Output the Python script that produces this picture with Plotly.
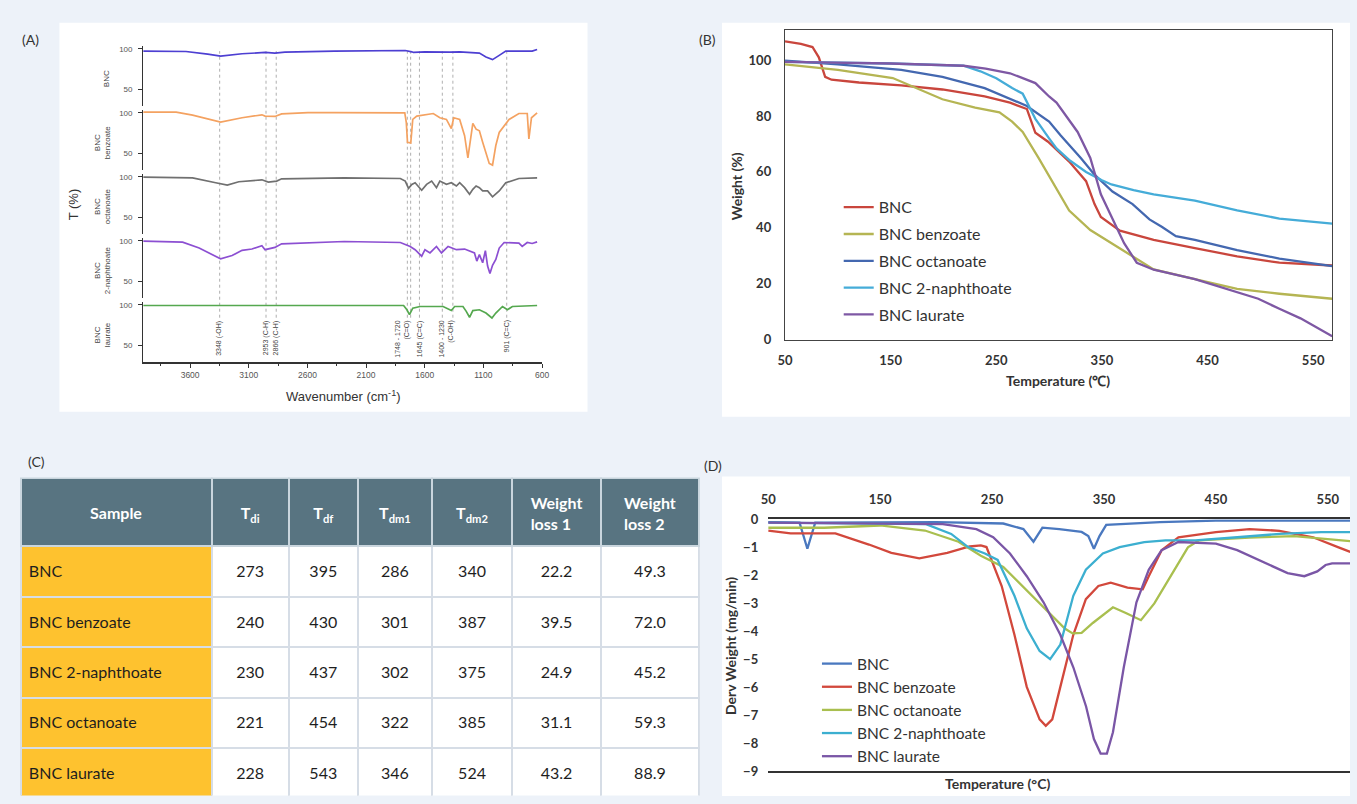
import plotly.graph_objects as go

W, H = 1357, 804
def fx(px): return px / W
def fy(py): return 1 - py / H

# ---------------- Panel A : FTIR ----------------
ftir_names = ["BNC", "BNC<br>benzoate", "BNC<br>octanoate", "BNC<br>2-naphthoate", "BNC<br>laurate"]
ftir_colors = ["#4d3fd2", "#f4a261", "#707070", "#8c4fd2", "#55a84f"]

bnc_wn = [4000, 3635, 3450, 3340, 3157, 2961, 2877, 2792, 2370, 1808, 1766, 1710, 1696, 1600, 1500, 1387, 1302, 1218, 1134, 1078, 1050, 1022, 965, 909, 800, 684, 642]
bnc_T = [97.2, 96.8, 93.5, 91.2, 94, 95.6, 94.8, 96, 97.2, 98, 98, 96.4, 95.6, 96.4, 96, 96, 96.4, 96, 94.8, 90, 88, 86.8, 92, 97.2, 97.2, 97.2, 99.2]

benz_wn = [4000, 3719, 3579, 3340, 3157, 2988, 2961, 2877, 2820, 2595, 2370, 1808, 1770, 1757, 1747, 1719, 1702, 1668, 1584, 1527, 1471, 1415, 1373, 1353, 1302, 1260, 1232, 1190, 1162, 1134, 1106, 1050, 1022, 994, 965, 923, 881, 797, 726, 712, 690, 642]
benz_T = [100.8, 100.8, 97.2, 88.8, 94, 97.6, 96, 95.6, 98.8, 100.4, 100.4, 100, 100, 88, 64, 63.2, 92, 96, 97.6, 99.2, 94, 92, 80.8, 94, 92, 72, 44.8, 87.2, 80, 78, 64, 38, 36, 60, 76, 84, 92, 99.2, 99.2, 68, 94, 100]

oct_wn = [4000, 3579, 3382, 3283, 3185, 2988, 2933, 2862, 2820, 2286, 1808, 1766, 1738, 1710, 1682, 1626, 1584, 1541, 1500, 1471, 1415, 1373, 1330, 1302, 1260, 1218, 1190, 1162, 1134, 1106, 1064, 1022, 965, 909, 797, 684, 642]
oct_T = [99.6, 98.8, 92.8, 90, 94, 96.4, 93.6, 94.8, 97.6, 98.8, 98, 94.8, 86, 90.8, 92.8, 83.6, 90.8, 94.8, 86.8, 94.8, 90.8, 92.8, 88.8, 92.8, 86.8, 78.8, 84.8, 88.8, 86.8, 82.8, 82.8, 75.6, 82.8, 92.8, 98, 98, 98.8]

naph_wn = [4000, 3664, 3523, 3340, 3242, 3157, 3073, 2988, 2961, 2877, 2820, 2286, 1808, 1724, 1682, 1626, 1598, 1555, 1500, 1457, 1401, 1330, 1260, 1218, 1176, 1156, 1134, 1106, 1083, 1064, 1044, 1022, 994, 965, 923, 797, 769, 726, 684, 642]
naph_T = [99.6, 98.4, 91.2, 78, 82, 88.4, 90, 94, 89.2, 92, 96.4, 99.2, 98, 93.2, 89.2, 81.2, 89.2, 85.2, 93.2, 85.2, 93.2, 89.2, 90, 87.2, 85.2, 75.2, 83.2, 73.2, 88, 69.2, 60, 70, 77.2, 91.2, 98, 97.2, 93.2, 98, 96.8, 98.8]

laur_wn = [4000, 3000, 1780, 1752, 1730, 1702, 1640, 1443, 1373, 1345, 1274, 1246, 1218, 1190, 1134, 1078, 1027, 994, 937, 895, 853, 642]
laur_T = [99.2, 98.8, 99.2, 94, 88, 96, 98, 98, 93.2, 98, 98, 92, 84.8, 93, 94, 90, 84, 90, 98, 94, 98, 99.2]

ftir_wn = [bnc_wn, benz_wn, oct_wn, naph_wn, laur_wn]
ftir_T = [bnc_T, benz_T, oct_T, naph_T, laur_T]

band_wn = [3348, 2953, 2866, 1748, 1720, 1645, 1450, 1360, 901]
band_label_wn = [3348, 2953, 2866, 1789, 1645, 1415, 901]
band_label_text = ["3348 (-OH)", "2953 (C-H)", "2866 (C-H)", "1748 - 1720<br>(C=O)",
                   "1645 (C=C)", "1400 - 1230<br>(C-OH)", "901 (C=C)"]
wn_ticks = [3600, 3100, 2600, 2100, 1600, 1100, 600]
wn_minor = [3850, 3350, 2850, 2350, 1850, 1350, 850]

# ---------------- Panel B : TGA ----------------
tga_names = ["BNC", "BNC benzoate", "BNC octanoate", "BNC 2-naphthoate", "BNC laurate"]
tga_colors = ["#c9463d", "#b5b553", "#4468b0", "#45acd8", "#7e58a4"]
tga_bnc_x = [50, 65, 76, 82, 88, 94, 120, 160, 199, 239, 263, 279, 287, 299, 319, 335, 343, 349, 367, 399, 438, 478, 518, 568]
tga_bnc_y = [106.7, 105.8, 104.7, 101, 94, 93, 92, 91, 89.5, 87, 84.8, 82.5, 74, 70.8, 63.7, 56.7, 48.5, 43.9, 39, 35.7, 32.7, 29.8, 27.5, 26.5]
tga_benz_x = [50, 100, 152, 199, 230, 253, 265, 275, 290, 303, 319, 339, 359, 380, 399, 438, 478, 518, 568]
tga_benz_y = [98.5, 96.5, 93.6, 86, 83, 81.3, 78, 74.3, 65, 56.7, 46.2, 39.2, 34.5, 29.5, 25.1, 21.6, 18.1, 16.4, 14.6]
tga_oct_x = [50, 100, 160, 199, 239, 279, 300, 311, 330, 343, 360, 379, 395, 407, 420, 438, 478, 518, 568]
tga_oct_y = [99.8, 98.5, 96.5, 94, 90, 83.6, 78, 73, 65, 59, 53, 48.5, 43, 40.3, 37, 35.7, 32, 29, 26.3]
tga_naph_x = [50, 150, 219, 235, 250, 265, 275, 287, 300, 307, 320, 335, 350, 359, 380, 399, 438, 478, 518, 568]
tga_naph_y = [99.4, 98.8, 98, 96, 93.5, 90, 88, 79, 72, 68.4, 64, 60, 57, 55.5, 53.5, 52, 49.7, 46.2, 43.3, 41.5]
tga_laur_x = [50, 150, 219, 240, 263, 287, 300, 307, 327, 339, 349, 359, 371, 383, 399, 438, 478, 498, 518, 538, 568]
tga_laur_y = [99.4, 98.8, 98, 97, 95.3, 91.8, 87, 84.8, 74.3, 65, 52, 43.9, 34.5, 27.5, 25, 21.6, 17, 14.6, 11, 7.6, 1.2]
tga_x = [tga_bnc_x, tga_benz_x, tga_oct_x, tga_naph_x, tga_laur_x]
tga_y = [tga_bnc_y, tga_benz_y, tga_oct_y, tga_naph_y, tga_laur_y]

# ---------------- Panel D : DTG ----------------
dtg_names = ["BNC", "BNC benzoate", "BNC octanoate", "BNC 2-naphthoate", "BNC laurate"]
dtg_colors = ["#4a78bf", "#d2483c", "#a9bf4f", "#3cafd0", "#7a56a6"]
dtg_bnc_x = [50, 78, 85, 92, 200, 260, 278, 287, 295, 310, 330, 336, 341, 346, 352, 400, 450, 570]
dtg_bnc_y = [-0.1, -0.12, -1.05, -0.12, -0.1, -0.15, -0.35, -0.8, -0.3, -0.35, -0.45, -0.6, -1.05, -0.6, -0.2, -0.1, -0.05, -0.05]
dtg_benz_x = [50, 70, 110, 140, 160, 185, 210, 230, 240, 245, 258.6, 270, 281, 292.5, 298, 303.8, 311, 322.6, 333.8, 345, 356, 371, 384.6, 390, 401.5, 416.5, 450, 480, 506.8, 536.8, 559, 570]
dtg_benz_y = [-0.4, -0.5, -0.5, -0.9, -1.2, -1.39, -1.2, -0.97, -0.93, -0.99, -2.38, -4.12, -5.98, -7.14, -7.37, -7.14, -5.98, -4.12, -2.85, -2.38, -2.26, -2.44, -2.5, -2.03, -1.1, -0.64, -0.46, -0.35, -0.41, -0.64, -0.99, -1.16]
dtg_oct_x = [50, 100, 150, 190, 220, 240, 260, 280, 300, 315, 322, 330, 340, 358, 370, 383, 395, 410, 425, 435, 480, 520, 550, 570]
dtg_oct_y = [-0.3, -0.3, -0.22, -0.4, -0.8, -1.3, -1.7, -2.5, -3.3, -3.9, -4.07, -4.05, -3.7, -3.14, -3.35, -3.6, -3.0, -2.0, -1.0, -0.75, -0.65, -0.6, -0.7, -0.78]
dtg_naph_x = [50, 191, 213.5, 228.6, 243.6, 255, 270, 281, 292.5, 301.9, 311, 322.6, 333.8, 349, 364, 386, 405, 431.6, 469, 506.8, 544, 570]
dtg_naph_y = [-0.12, -0.17, -0.52, -0.99, -1.22, -1.45, -2.73, -3.89, -4.7, -4.99, -4.47, -2.73, -1.8, -1.22, -0.99, -0.81, -0.75, -0.75, -0.64, -0.52, -0.46, -0.46]
dtg_laur_x = [50, 206, 236, 251, 266, 281, 296, 311, 322.6, 334, 341, 347, 352.6, 358, 367.7, 379, 390, 401.5, 416.5, 450, 469, 495.5, 514, 529, 540.6, 548, 553.8, 570]
dtg_laur_y = [-0.12, -0.17, -0.35, -0.64, -1.22, -2.03, -2.96, -4.12, -5.28, -6.68, -7.84, -8.36, -8.36, -7.6, -5.28, -2.96, -1.8, -1.1, -0.81, -0.87, -1.1, -1.57, -1.92, -2.03, -1.86, -1.63, -1.57, -1.57]
dtg_x = [dtg_bnc_x, dtg_benz_x, dtg_oct_x, dtg_naph_x, dtg_laur_x]
dtg_y = [dtg_bnc_y, dtg_benz_y, dtg_oct_y, dtg_naph_y, dtg_laur_y]

# ---------------- Panel C : table ----------------
tbl_header = ["Sample", "T<sub>di</sub>", "T<sub>df</sub>", "T<sub>dm1</sub>", "T<sub>dm2</sub>",
              "Weight<br>loss 1", "Weight<br>loss 2"]
tbl_sample = ["BNC", "BNC benzoate", "BNC 2-naphthoate", "BNC octanoate", "BNC laurate"]
tbl_tdi = ["273", "240", "230", "221", "228"]
tbl_tdf = ["395", "430", "437", "454", "543"]
tbl_tdm1 = ["286", "301", "302", "322", "346"]
tbl_tdm2 = ["340", "387", "375", "385", "524"]
tbl_wl1 = ["22.2", "39.5", "24.9", "31.1", "43.2"]
tbl_wl2 = ["49.3", "72.0", "45.2", "59.3", "88.9"]

BG = "#edf2f9"
fig = go.Figure()

# ---- A traces
for k in range(5):
    sfx = "" if k == 0 else str(k + 1)
    fig.add_trace(go.Scatter(x=ftir_wn[k], y=ftir_T[k], mode="lines", xaxis="x" + sfx, yaxis="y" + sfx,
                             line=dict(color=ftir_colors[k], width=1.7), showlegend=False, hoverinfo="skip"))

# ---- B traces
for k in range(5):
    fig.add_trace(go.Scatter(x=tga_x[k], y=tga_y[k], mode="lines", xaxis="x6", yaxis="y6",
                             name=tga_names[k], legend="legend", legendgroup="b%d" % k,
                             line=dict(color=tga_colors[k], width=2.3)))
# ---- D traces
for k in range(5):
    fig.add_trace(go.Scatter(x=dtg_x[k], y=dtg_y[k], mode="lines", xaxis="x7", yaxis="y7",
                             name=dtg_names[k], legend="legend2", legendgroup="d%d" % k,
                             line=dict(color=dtg_colors[k], width=2.3)))

# ---- C table (a tiny first line is used as a spacer to centre the text vertically)
def spacer(px):
    return "<span style='font-size:%dpx'>&nbsp;</span><br>" % px
hdr_vals = [spacer(12 if "<br>" not in h else 2) + "<b>" + h + "</b>" for h in tbl_header]
body_cols = [tbl_sample, tbl_tdi, tbl_tdf, tbl_tdm1, tbl_tdm2, tbl_wl1, tbl_wl2]
body_vals = [[spacer(2) + v for v in col] for col in body_cols]
gold, white = "#fec22f", "#ffffff"
fig.add_trace(go.Table(
    domain=dict(x=[fx(13), fx(699)], y=[fy(804), fy(480)]),
    columnwidth=[193, 78, 70, 75, 81, 90, 99],
    header=dict(values=hdr_vals, fill_color="#587481", height=68, align="center",
                font=dict(family="Lato", size=16, color="white"),
                line=dict(color="#c9d5dd", width=2)),
    cells=dict(values=body_vals,
               fill_color=[[gold] * 5] + [[white] * 5] * 6, height=50.4,
               align=["left"] + ["center"] * 6,
               font=dict(family="Lato", size=16, color="#1e1e1e"),
               line=dict(color="#d6dde6", width=2))))

layout = dict(width=W, height=H, autosize=False, margin=dict(l=0, r=0, t=0, b=0),
              paper_bgcolor=BG, plot_bgcolor="white", showlegend=True)

# ---- A axes
a_x0, a_x1 = fx(136.7), fx(540)
for k in range(5):
    sfx = "" if k == 0 else str(k + 1)
    top = 41.7 + 65.3 * k - 2.5
    bot = top + 60.8
    layout["xaxis" + sfx] = dict(domain=[a_x0, a_x1], range=[4000, 600], anchor="y" + sfx,
                                 visible=(k == 4), showgrid=False, zeroline=False)
    layout["yaxis" + sfx] = dict(domain=[fy(bot), fy(top)], range=[30, 103], anchor="x" + sfx,
                                 tickvals=[50, 100], ticks="outside", ticklen=4, tickcolor="#333",
                                 showline=True, linecolor="#333", linewidth=1.2, showgrid=False,
                                 zeroline=False, ticklabelstandoff=4,
                                 tickfont=dict(family="Liberation Sans", size=8, color="#555"))
layout["xaxis5"].update(tickvals=wn_ticks, ticks="outside", ticklen=4, tickcolor="#333",
                        showline=True, linecolor="#333", linewidth=1.8,
                        tickfont=dict(family="Liberation Sans", size=8.5, color="#555"),
                        minor=dict(tickvals=wn_minor, ticks="outside", ticklen=2, tickcolor="#333"))

# ---- B axes
bfont = dict(family="Lato", size=13, color="#333")
layout["xaxis6"] = dict(domain=[fx(785.7), fx(1339)], range=[50, 568], anchor="y6",
                        tickvals=[50, 150, 250, 350, 450, 550], showline=True, mirror=True,
                        linecolor="#444", linewidth=1.4, showgrid=False, zeroline=False,
                        ticks="", ticklabelstandoff=9, tickfont=dict(bfont, weight="bold"))
layout["yaxis6"] = dict(domain=[fy(338.3), fy(22.7)], range=[0, 110.7], anchor="x6",
                        tickvals=[0, 20, 40, 60, 80, 100], showline=True, mirror=True,
                        linecolor="#444", linewidth=1.4, showgrid=False, zeroline=False,
                        ticks="", ticklabelstandoff=10, tickfont=dict(bfont, weight="bold"))
# ---- D axes
layout["xaxis7"] = dict(domain=[fx(768.7), fx(1357)], range=[50, 569.8], anchor="y7", side="top",
                        tickvals=[50, 150, 250, 350, 450, 550], showline=True, mirror=True,
                        linecolor="#333", linewidth=1.8, showgrid=False, zeroline=False,
                        ticks="", ticklabelstandoff=8, tickfont=dict(bfont, weight="bold"))
layout["yaxis7"] = dict(domain=[fy(779), fy(521.7)], range=[-9, 0], anchor="x7",
                        tickvals=[0, -1, -2, -3, -4, -5, -6, -7, -8, -9], showline=False,
                        showgrid=False, zeroline=False, ticks="", ticklabelstandoff=9,
                        tickfont=dict(bfont, weight="bold"))

# ---- legends
layout["legend"] = dict(x=fx(840), y=fy(186), xanchor="left", yanchor="top", bgcolor="rgba(0,0,0,0)",
                        font=dict(family="Lato", size=16, color="#333"), tracegroupgap=3,
                        traceorder="grouped", itemwidth=30)
layout["legend2"] = dict(x=fx(818), y=fy(652), xanchor="left", yanchor="top", bgcolor="rgba(0,0,0,0)",
                         font=dict(family="Lato", size=15.5, color="#333"), tracegroupgap=0,
                         traceorder="grouped", itemwidth=30)

# ---- background panels and band lines
shapes = [
    dict(type="rect", xref="paper", yref="paper", x0=fx(52), x1=fx(586), y0=fy(412), y1=fy(15),
         fillcolor="white", line=dict(width=0), layer="below"),
    dict(type="rect", xref="paper", yref="paper", x0=fx(722), x1=fx(1357), y0=fy(417), y1=fy(15),
         fillcolor="white", line=dict(width=0), layer="below"),
    dict(type="rect", xref="paper", yref="paper", x0=fx(722), x1=fx(1357), y0=fy(804), y1=fy(478),
         fillcolor="white", line=dict(width=0), layer="below"),
]
for w in band_wn:
    shapes.append(dict(type="line", xref="x5", yref="paper", x0=w, x1=w, y0=fy(316), y1=fy(44),
                       line=dict(color="#9a9a9a", width=0.8, dash="dot"), layer="below"))
layout["shapes"] = shapes

def A(x, y, text, size, family="Lato", color="#333", angle=0, xref="paper", yref="paper",
      xanchor="center", yanchor="middle", align="center"):
    return dict(x=x, y=y, xref=xref, yref=yref, text=text, showarrow=False, textangle=angle,
                xanchor=xanchor, yanchor=yanchor, align=align,
                font=dict(family=family, size=size, color=color))

ann = []
for t, w in zip(band_label_text, band_label_wn):
    ann.append(A(w, fy(317), t, 7, "Liberation Sans", "#444", -90, xref="x5", yanchor="top", align="right"))
for k in range(5):
    sfx = "" if k == 0 else str(k + 1)
    ann.append(A(fx(99 if k == 0 else 95), 64, ftir_names[k], 8, "Liberation Sans", "#444", -90,
                 yref="y" + sfx))
ann += [
    A(fx(66), fy(200), "T (%)", 13, "Liberation Sans", "#333", -90),
    A(fx(339), fy(396), "Wavenumber (cm<sup>-1</sup>)", 13, "Liberation Sans", "#333"),
    A(fx(737), fy(182), "<b>Weight (%)</b>", 14, angle=-90),
    A(fx(1062), fy(380), "<b>Temperature (℃)</b>", 14),
    A(fx(730), fy(651), "<b>Derv Weight (mg/min)</b>", 14, angle=-90),
    A(fx(1001), fy(791), "<b>Temperature (°C)</b>", 14),
]
for lbl, px, py in [("(A)", 23, 32), ("(B)", 707, 32), ("(C)", 29, 463), ("(D)", 713, 467)]:
    ann.append(A(fx(px), fy(py), lbl, 14))
layout["annotations"] = ann

fig.update_layout(**layout)
fig.write_html("out.html", config={"displayModeBar": False},
               post_script="document.body.style.margin='0';document.body.style.overflow='hidden';")
